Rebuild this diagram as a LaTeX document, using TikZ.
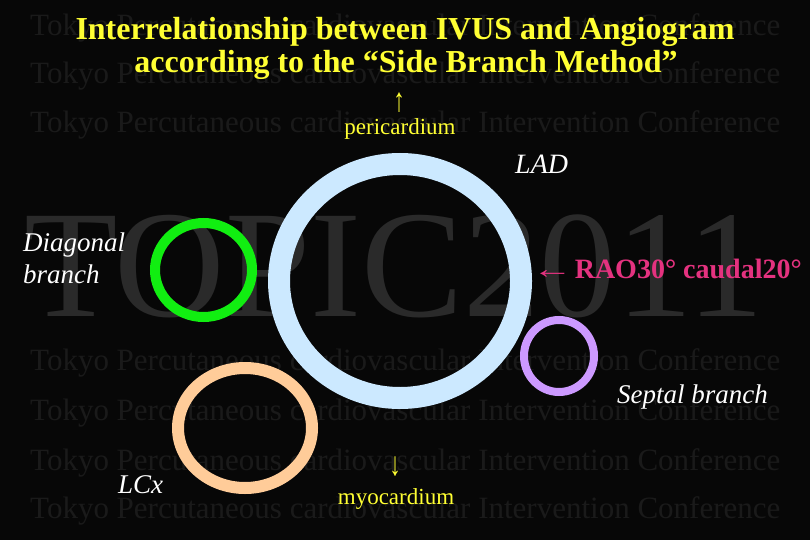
\documentclass[tikz,border=0pt]{standalone}
\usepackage{fontspec}
\setmainfont{Liberation Serif}
\usetikzlibrary{shapes.geometric}
\definecolor{bgc}{HTML}{070707}
\definecolor{wmc}{HTML}{1A1A1A}
\definecolor{bigwm}{HTML}{2A2A2A}
\definecolor{ttl}{HTML}{FFFF33}
\definecolor{ladc}{HTML}{CCE9FF}
\definecolor{diagc}{HTML}{11EE11}
\definecolor{septc}{HTML}{CC99FF}
\definecolor{lcxc}{HTML}{FFCC99}
\definecolor{raoc}{HTML}{E4327F}
\tikzset{
  wm/.style={anchor=base west, inner sep=0, text=wmc, font=\fontsize{31}{32}\selectfont},
  ring/.style={ellipse, draw, inner sep=0, fill=none},
  titletext/.style={anchor=base, inner sep=0, text=ttl, font=\fontsize{32}{36}\selectfont\bfseries},
  yel/.style={anchor=base, inner sep=0, text=ttl, font=\fontsize{23}{26}\selectfont},
  lbl/.style={inner sep=0, text=white, font=\fontsize{27}{32}\selectfont\itshape},
}
\begin{document}
\begin{tikzpicture}[x=1pt,y=-1pt]
\fill[bgc] (0,0) rectangle (810,540);
\useasboundingbox (0,0) rectangle (810,540);
% background watermark
\foreach \yy [count=\i] in {36,84,133,370,420,470,518}
  \node[wm] (wm\i) at (30,\yy) {Tokyo Percutaneous cardiovascular Intervention Conference};
\node[anchor=base west, inner sep=0, text=bigwm, font=\fontsize{153}{155}\selectfont] (topic) at (24,316) {TOPIC2011};
% title
\node[titletext] (t1) at (405,40) {Interrelationship between IVUS and Angiogram};
\node[titletext] (t2) at (406,73) {according to the “Side Branch Method”};
% rings
\node[ring, draw=ladc, line width=22pt, minimum width=242pt, minimum height=234pt] (lad) at (400,281) {};
\node[ring, draw=diagc, line width=10pt, minimum width=97pt, minimum height=94pt] (diag) at (203.5,270) {};
\node[ring, draw=septc, line width=8pt, minimum width=70pt, minimum height=72pt] (sept) at (559,356) {};
\node[ring, draw=lcxc, line width=12pt, minimum width=134pt, minimum height=120pt] (lcx) at (245,428) {};
% labels
\node[yel] (uparrow) at (399,112) {\scalebox{1}[1.45]{↑}};
\node[yel] (peri) at (400,135) {pericardium};
\node[yel] (downarrow) at (395,475) {\scalebox{1}[1.45]{↓}};
\node[yel] (myo) at (396,504) {myocardium};
\node[lbl, anchor=base west] (ladl) at (515,173) {\fontsize{28}{32}\selectfont LAD};
\node[lbl, anchor=base west, align=left] (diagl) at (23,283) {Diagonal\\[-0.5pt]branch};
\node[lbl, anchor=base west] (septl) at (617,403) {Septal branch};
\node[lbl, anchor=base west] (lcxl) at (118,493) {LCx};
\node[anchor=base west, inner sep=0, text=raoc, font=\fontsize{28}{32}\selectfont\bfseries] (rao) at (532,278) {\scalebox{1.45}[1]{←}\hspace{2pt}RAO30° caudal20°};
\end{tikzpicture}
\end{document}
